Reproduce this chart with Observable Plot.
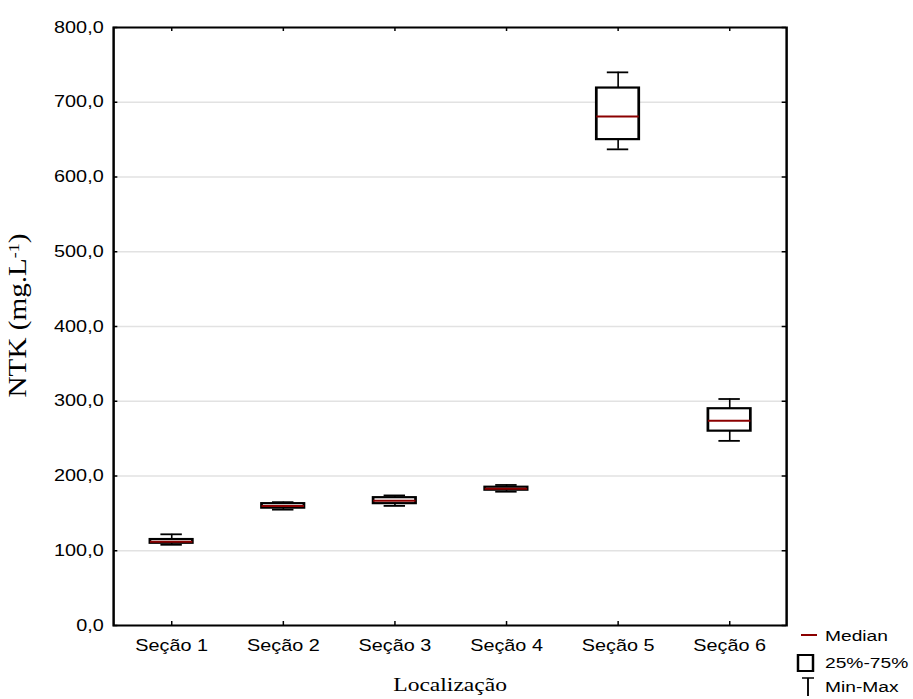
<!DOCTYPE html>
<html><head><meta charset="utf-8">
<script src="https://cdn.jsdelivr.net/npm/d3@7"></script>
<script src="https://cdn.jsdelivr.net/npm/@observablehq/plot@0.6"></script>
<style>
  html,body{margin:0;padding:0;background:#fff;}
  #chart svg{display:block;}
</style>
</head><body>
<div id="chart"></div>
<script>
// ---- data ----
const categories   = ["Seção 1", "Seção 2", "Seção 3", "Seção 4", "Seção 5", "Seção 6"];
const minValues    = [108, 155, 160, 179, 637, 247];
const q1Values     = [110, 157, 163, 181, 650, 260];
const medianValues = [112, 160, 167, 183, 681, 274];
const q3Values     = [115, 163, 171, 185, 719, 290];
const maxValues    = [122, 165, 174, 188, 740, 303];
const yTicks       = [0, 100, 200, 300, 400, 500, 600, 700, 800];
const xLabel       = "Localização";
const yLabelMain   = "NTK (mg.L";
const yLabelSup    = "-1";
const yLabelEnd    = ")";
const legendLabels = ["Median", "25%-75%", "Min-Max"];

const data = categories.map((c, i) => ({
  cat: c, min: minValues[i], q1: q1Values[i], median: medianValues[i], q3: q3Values[i], max: maxValues[i]
}));

// The reference picture is stretched horizontally; reproduce with a non-uniform viewBox.
const S = 1.24;
const W = 913 / S, H = 699;
const mL = 113 / S, mR = (913 - 786) / S, mT = 27, mB = 74;
const frameW = W - mL - mR, frameH = H - mT - mB;
const band = frameW / categories.length;
const boxInset = (band - 43 / S) / 2;
const capInset = (band - 22 / S) / 2;
const fmt = d => d.toFixed(1).replace(".", ",");
const sans = "'Liberation Sans', Arial, sans-serif";
const serif = "'Liberation Serif', 'Times New Roman', serif";
const medianColor = "#8b0000";

const svg = Plot.plot({
  width: W, height: H,
  marginLeft: mL, marginRight: mR, marginTop: mT, marginBottom: mB,
  style: {fontFamily: sans, fontSize: "16px", color: "black", background: "white"},
  x: {type: "band", domain: categories, padding: 0, label: null},
  y: {domain: [0, 800], label: null},
  marks: [
    Plot.gridY(yTicks, {stroke: "#e2e2e2", strokeOpacity: 1, strokeWidth: 1.5}),
    Plot.ruleX(data, {x: "cat", y1: "min", y2: "q1", stroke: "black", strokeWidth: 1.3}),
    Plot.ruleX(data, {x: "cat", y1: "q3", y2: "max", stroke: "black", strokeWidth: 1.3}),
    Plot.tickY(data, {x: "cat", y: "min", stroke: "black", strokeWidth: 1.8, insetLeft: capInset, insetRight: capInset}),
    Plot.tickY(data, {x: "cat", y: "max", stroke: "black", strokeWidth: 1.8, insetLeft: capInset, insetRight: capInset}),
    Plot.barY(data, {x: "cat", y1: "q1", y2: "q3", fill: "white", stroke: "black", strokeWidth: 2.2, insetLeft: boxInset, insetRight: boxInset}),
    Plot.tickY(data, {x: "cat", y: "median", stroke: medianColor, strokeWidth: 2, insetLeft: boxInset, insetRight: boxInset}),
    Plot.frame({stroke: "black", strokeWidth: 2}),
    Plot.tickY(yTicks, {y: d => d, stroke: "black", strokeWidth: 1.5, insetRight: frameW - 3.5}),
    Plot.tickY(yTicks, {y: d => d, stroke: "black", strokeWidth: 1.5, insetLeft: frameW - 3.5}),
    Plot.tickX(categories, {x: d => d, stroke: "black", strokeWidth: 1.2, insetBottom: frameH - 4}),
    Plot.tickX(categories, {x: d => d, stroke: "black", strokeWidth: 1.2, insetTop: frameH - 4}),
    Plot.axisY(yTicks, {tickSize: 0, tickPadding: 8, tickFormat: fmt, label: null, fontSize: 16, fill: "black"}),
    Plot.axisX({tickSize: 0, tickPadding: 14, label: null, fontSize: 16, fill: "black"}),
    Plot.text([xLabel], {frameAnchor: "bottom", dy: 65, fontFamily: serif, fontSize: 19, fill: "black"}),
    Plot.text([yLabelMain], {frameAnchor: "left", textAnchor: "middle", rotate: -90, dx: -(mL - 18 / S), fontFamily: serif, fontSize: 19.5, fill: "black", className: "ylab"})
  ]
});

svg.setAttribute("width", 913);
svg.setAttribute("preserveAspectRatio", "none");

// Y label with superscript
const yl = d3.select(svg).select(".ylab text");
yl.text(null).attr("x", 11).attr("textLength", 164).attr("lengthAdjust", "spacingAndGlyphs");
yl.append("tspan").text(yLabelMain);
yl.append("tspan").attr("baseline-shift", "super").attr("font-size", "12").text(yLabelSup);
yl.append("tspan").text(yLabelEnd);

// Legend (bottom right)
const lg = d3.select(svg).append("g")
  .attr("font-family", sans).attr("font-size", 15.5).attr("fill", "black").attr("text-anchor", "start");
lg.append("line").attr("x1", 801 / S).attr("x2", 817 / S).attr("y1", 635).attr("y2", 635)
  .attr("stroke", medianColor).attr("stroke-width", 2);
lg.append("text").attr("x", 825 / S).attr("y", 641).text(legendLabels[0]);
lg.append("rect").attr("x", 798 / S).attr("y", 655).attr("width", 15 / S).attr("height", 16)
  .attr("fill", "none").attr("stroke", "black").attr("stroke-width", 2);
lg.append("text").attr("x", 825 / S).attr("y", 668).text(legendLabels[1]);
lg.append("line").attr("x1", 802 / S).attr("x2", 814 / S).attr("y1", 678).attr("y2", 678)
  .attr("stroke", "black").attr("stroke-width", 1.5);
lg.append("line").attr("x1", 808 / S).attr("x2", 808 / S).attr("y1", 678).attr("y2", 696)
  .attr("stroke", "black").attr("stroke-width", 1.5);
lg.append("text").attr("x", 825 / S).attr("y", 692).text(legendLabels[2]);

document.getElementById("chart").appendChild(svg);
</script>
</body></html>
